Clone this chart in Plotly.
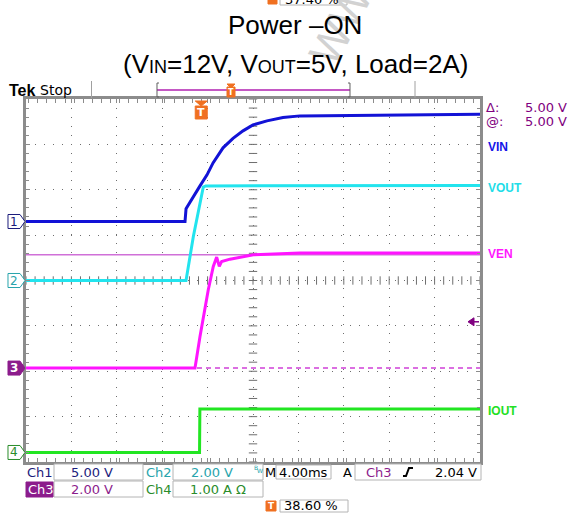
import plotly.graph_objects as go

# ---------------- data (time in ms, values in V / A) ----------------
vin_t = [-15.44, -1.43, -1.34, -0.73, -0.11, 0.51, 1.04, 1.92, 2.80, 3.68, 4.56, 5.79, 7.20, 8.70, 17.5, 24.56]
vin_v = [0.0, 0.0, 1.40, 2.72, 3.93, 5.14, 6.46, 8.12, 9.16, 9.99, 10.65, 11.09, 11.45, 11.64, 11.75, 11.81]

vout_t = [-15.44, -1.34, -0.70, 0.0, 0.18, 0.40, 24.56]
vout_v = [0.0, 0.0, 1.93, 3.64, 4.12, 4.17, 4.19]

ven_t = [-15.44, -0.55, -0.11, 0.62, 1.06, 1.36, 1.59, 1.80, 2.53, 3.41, 4.59, 8.70, 24.56]
ven_v = [0.0, 0.0, 1.39, 3.45, 4.48, 4.89, 4.48, 4.70, 4.80, 4.89, 4.99, 5.07, 5.07]

iout_t = [-15.44, -0.15, -0.12, 24.56]
iout_a = [0.0, 0.0, 0.96, 0.96]

trace_names = ["VIN", "VOUT", "VEN", "IOUT"]
ch_names = ["Ch1", "Ch2", "Ch3", "Ch4"]
ch_scale = [5.0, 2.0, 2.0, 1.0]            # units / div
ch_offset = [1.30, 0.0, -1.93, -3.79]      # ground marker position, divisions from centre
ch_scale_text = ["5.00 V", "2.00 V", "2.00 V", "1.00 A \u03a9"]
timebase_ms = 4.0
trig_pos = 0.386
timebase_text = "4.00ms"
trig_level = 2.04
trig_text = "2.04 V"
trig_pos_text = "38.60 %"
top_pos_text = "37.40 %"
cursor_delta = 5.00
cursor_at = 5.00
cursor_text = "5.00 V"

# ---------------- geometry ----------------
W, H = 571, 515
L, R, T, B = 26, 480, 99, 462
DIV = (B - T) / 8.0
CY = (T + B) / 2.0

def px(x):
    return (x - L) / (R - L)

def py(y):
    return (B - y) / (B - T)

def ch_y(i):
    return CY - ch_offset[i] * DIV

x0 = -trig_pos * 10 * timebase_ms
x1 = x0 + 10 * timebase_ms

def yrange(i):
    s, o = ch_scale[i], ch_offset[i]
    return [(-4 - o) * s, (4 - o) * s]

colors = ["#1212d6", "#22e4ee", "#ff14ff", "#22e622"]
label_colors = ["#1414e8", "#22dde8", "#ff18ff", "#22e022"]
ch_text_colors = ["#1c1c7c", "#28a4ac", "#8c1c8c", "#2a8c2a"]

fig = go.Figure()

GRID = "#6e6e6e"
FRAME = "#8c8c8c"
# centre-line tick marks (graticule decoration)
n_minor = 50
fig.add_trace(go.Scatter(
    x=[x0 + k * timebase_ms / 5 for k in range(n_minor + 1)], y=[0] * (n_minor + 1),
    mode="markers", marker=dict(symbol="line-ns", size=6, line=dict(width=1, color=GRID)),
    hoverinfo="skip", showlegend=False, xaxis="x", yaxis="y"))
fig.add_trace(go.Scatter(
    x=[x0 + 5 * timebase_ms] * 41, y=[-4 + k * 0.2 for k in range(41)],
    mode="markers", marker=dict(symbol="line-ew", size=6, line=dict(width=1, color=GRID)),
    hoverinfo="skip", showlegend=False, xaxis="x", yaxis="y"))

series = [(vin_t, vin_v), (vout_t, vout_v), (ven_t, ven_v), (iout_t, iout_a)]
for i, (tt, vv) in enumerate(series):
    fig.add_trace(go.Scatter(x=tt, y=vv, mode="lines", name=trace_names[i],
                             line=dict(color=colors[i], width=3), showlegend=False,
                             xaxis="x", yaxis="y%d" % (i + 2)))

axis_common = dict(showticklabels=False, showline=True, linecolor=FRAME, linewidth=3,
                   mirror="allticks", ticks="inside", ticklen=4, tickcolor=FRAME,
                   tickwidth=1, showgrid=True, gridcolor=GRID, gridwidth=1,
                   griddash="1px,8px", zeroline=False, fixedrange=True)

layout = dict(
    width=W, height=H, margin=dict(l=L, r=W - R, t=T, b=H - B, pad=0),
    paper_bgcolor="white", plot_bgcolor="white", showlegend=False,
    xaxis=dict(range=[x0, x1], tick0=x0, dtick=timebase_ms,
               minor=dict(dtick=timebase_ms / 5, ticks="inside", ticklen=3, tickcolor=FRAME,
                          showgrid=False), **axis_common),
    yaxis=dict(range=[-4, 4], tick0=-4, dtick=1,
               minor=dict(dtick=0.2, ticks="inside", ticklen=3, tickcolor=FRAME,
                          showgrid=False), **axis_common),
)
for i in range(4):
    layout["yaxis%d" % (i + 2)] = dict(range=yrange(i), overlaying="y", visible=False, fixedrange=True)
fig.update_layout(**layout)

shapes = []
ann = []

def text(x, y, s, size=13, color="black", xanchor="left", family="DejaVu Sans", yanchor="middle", bg=None, angle=0):
    d = dict(x=px(x), y=py(y), xref="paper", yref="paper", text=s, showarrow=False,
             xanchor=xanchor, yanchor=yanchor, font=dict(size=size, color=color, family=family),
             borderpad=0, textangle=angle)
    if bg:
        d["bgcolor"] = bg
    ann.append(d)

def rect(xa, ya, xb, yb, line="#b4b4b4", fill="white", width=1):
    shapes.append(dict(type="rect", xref="paper", yref="paper", x0=px(xa), x1=px(xb),
                       y0=py(ya), y1=py(yb), line=dict(color=line, width=width), fillcolor=fill))

def path(points, close=False, line="black", fill=None, width=1):
    p = "M" + " L".join("%f,%f" % (px(a), py(b)) for a, b in points)
    if close:
        p += " Z"
    d = dict(type="path", xref="paper", yref="paper", path=p, line=dict(color=line, width=width))
    if fill:
        d["fillcolor"] = fill
    shapes.append(d)

def line(xa, ya, xb, yb, color, width=1, dash=None):
    d = dict(type="line", xref="paper", yref="paper", x0=px(xa), x1=px(xb), y0=py(ya), y1=py(yb),
             line=dict(color=color, width=width))
    if dash:
        d["line"]["dash"] = dash
    shapes.append(d)

# watermark (faint, behind the title)
text(340, 24, "WW", size=44, color="#d2d2d2", xanchor="center", family="Liberation Sans", angle=-62)

# title
TF = "Liberation Sans, Arial"
text(295, 25, "Power \u2013ON", size=26, xanchor="center", family=TF)
text(295, 64, "(V<span style='font-size:18px'>IN</span>=12V, V<span style='font-size:18px'>OUT</span>=5V, Load=2A)",
     size=26, xanchor="center", family=TF)

# top partially cut trigger-position box
rect(268, -7, 277, 4, line="#f07020", fill="#f07020")
rect(280, -7, 347, 5)
text(284, -1, top_pos_text, size=13, color="black")

# top status bar
text(8, 90, "<b>Tek</b>", size=16, family="Liberation Sans")
text(39, 90, "Stop", size=14)
line(91.5, 81, 91.5, 98, "#a0a0a0", 1)
line(415, 81, 415, 98, "#a0a0a0", 1)
line(157, 90, 350, 90, "#b020b0", 1.5)
path([(159, 83), (157, 83), (157, 97), (159, 97)], line="#606060", width=1)
path([(348, 83), (350, 83), (350, 97), (348, 97)], line="#606060", width=1)
# small trigger T on record bar
tx_bar = 231
path([(tx_bar - 4, 84), (tx_bar + 4, 84), (tx_bar, 88)], close=True, line="#f07020", fill="#f07020")
rect(tx_bar - 4, 87, tx_bar + 4, 97, line="#f07020", fill="#f07020")
text(tx_bar, 92.5, "<b>T</b>", size=8, color="white", xanchor="center", family="DejaVu Sans")

# trigger position marker under graticule top
tx = L + trig_pos * (R - L)
path([(tx - 6, 101), (tx + 6, 101), (tx, 106)], close=True, line="#f07020", fill="#f07020")
rect(tx - 6, 106, tx + 6, 119, line="#f07020", fill="#f07020")
text(tx, 112.5, "<b>T</b>", size=11, color="white", xanchor="center")

# cursors on Ch3 (solid @ level, dashed other cursor)
shapes.append(dict(type="line", xref="paper", yref="y4", x0=0, x1=1, y0=cursor_at, y1=cursor_at,
                   line=dict(color="#d070d8", width=1.5), layer="below"))
shapes.append(dict(type="line", xref="paper", yref="y4", x0=0, x1=1, y0=cursor_at - cursor_delta,
                   y1=cursor_at - cursor_delta, line=dict(color="#d040d8", width=1.5, dash="5px,4px"),
                   layer="below"))

# cursor readout
text(485, 107.5, "\u0394:", size=13, color="#800080")
text(568, 107.5, cursor_text, size=13, color="#800080", xanchor="right")
text(485, 122, "@:", size=13, color="#800080")
text(568, 122, cursor_text, size=13, color="#800080", xanchor="right")

# trace labels on the right
label_y = [146.5, 188, 254, 410.5]
for i in range(4):
    text(487, label_y[i], "<b>%s</b>" % trace_names[i], size=12, color=label_colors[i], family="Liberation Sans")

# channel ground markers on the left
for i in range(4):
    cy = ch_y(i)
    pts = [(8, cy - 7), (20, cy - 7), (25, cy), (20, cy + 7), (8, cy + 7)]
    if i == 2:
        path(pts, close=True, line="#8c1c8c", fill="#8c1c8c", width=1)
        text(14, cy, "<b>%d</b>" % (i + 1), size=12, color="white", xanchor="center")
    else:
        path(pts, close=True, line=ch_text_colors[i], fill="white", width=1)
        text(14, cy, "%d" % (i + 1), size=12, color=ch_text_colors[i], xanchor="center")

# trigger level arrow on right edge
ty = ch_y(2) - (trig_level / ch_scale[2]) * DIV
path([(468, ty), (474, ty - 4), (474, ty + 4)], close=True, line="#800080", fill="#800080")
line(474, ty, 479, ty, "#800080", 1.5)

# bottom readout
rect(54, 464, 143, 480)
rect(173, 464, 263, 480)
rect(276, 465, 331, 479)
rect(355, 464, 481, 480)
rect(54, 481, 143, 497)
rect(173, 481, 263, 497)
rect(26, 482, 53, 497, line="#8c1c8c", fill="#8c1c8c")
rect(266, 501, 276, 511, line="#f07020", fill="#f07020")
text(271, 506, "<b>T</b>", size=9, color="white", xanchor="center")
rect(280, 500, 348, 512)

text(26, 472, ch_names[0], size=13, color=ch_text_colors[0])
text(70, 472, ch_scale_text[0], size=13, color=ch_text_colors[0])
text(145, 472, ch_names[1], size=13, color=ch_text_colors[1])
text(190, 472, ch_scale_text[1], size=13, color=ch_text_colors[1])
text(27, 489.5, ch_names[2], size=13, color="white")
text(70, 489.5, ch_scale_text[2], size=13, color=ch_text_colors[2])
text(145, 489.5, ch_names[3], size=13, color=ch_text_colors[3])
text(189, 489.5, ch_scale_text[3], size=13, color=ch_text_colors[3])
text(253, 467, "B", size=6, color="#28a4ac")
text(256, 471, "W", size=6, color="#28a4ac")
text(264, 472, "M", size=13)
text(278, 472, timebase_text, size=13)
text(342, 472, "A", size=13)
text(365, 472, ch_names[2], size=13, color=ch_text_colors[2])
path([(403, 476), (406, 476), (409, 468), (413, 468)], line="black", width=2)
text(478, 472, trig_text, size=13, xanchor="right")
text(283, 506, trig_pos_text, size=13)

fig.update_layout(shapes=shapes, annotations=ann)
fig.write_html("out.html", config={"displayModeBar": False},
               post_script="document.body.style.margin='0px';document.body.style.overflow='hidden';")
